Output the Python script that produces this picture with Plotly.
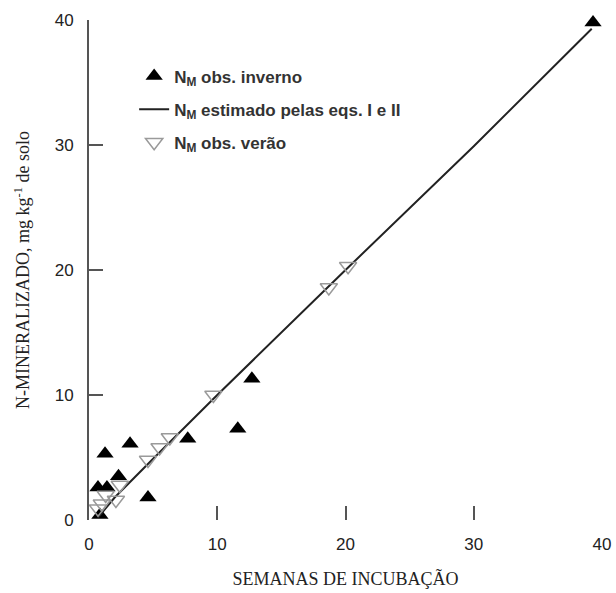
import plotly.graph_objects as go

# Winter observations (filled triangles)
winter_x = [39.3, 12.7, 11.6, 7.7, 3.2, 1.25, 2.3, 4.6, 0.7, 1.4, 0.85]
winter_y = [39.8, 11.3, 7.3, 6.5, 6.1, 5.3, 3.5, 1.8, 2.6, 2.6, 0.4]

# Summer observations (open triangles)
summer_x = [20.2, 18.7, 9.7, 6.3, 5.5, 4.6, 2.4, 2.1, 1.0, 0.7, 1.3]
summer_y = [20.3, 18.6, 10.0, 6.6, 5.8, 4.8, 2.8, 1.6, 1.3, 0.9, 2.0]

# Estimated line (eqs. I e II)
est_x = [0.7, 2.0, 5.0, 10.0, 20.0, 30.0, 39.2]
est_y = [0.2, 1.8, 4.9, 10.0, 20.0, 29.9, 39.3]

x_ticks = [0, 10, 20, 30, 40]
y_ticks = [0, 10, 20, 30, 40]

fig = go.Figure()
fig.add_trace(go.Scatter(
    x=winter_x, y=winter_y, mode="markers",
    name="N<sub>M</sub> obs. inverno", legendgroup="a",
    marker=dict(symbol="triangle-up", size=15, color="black"),
    cliponaxis=False))
fig.add_trace(go.Scatter(
    x=est_x, y=est_y, mode="lines",
    name="N<sub>M</sub> estimado pelas eqs. I e II", legendgroup="b",
    line=dict(color="#222222", width=2),
    cliponaxis=False))
fig.add_trace(go.Scatter(
    x=summer_x, y=summer_y, mode="markers",
    name="N<sub>M</sub> obs. verão", legendgroup="c",
    marker=dict(symbol="triangle-down-open", size=15, color="#9a9a9a",
                line=dict(width=1.5, color="#9a9a9a")),
    cliponaxis=False))

fig.update_layout(
    width=616, height=593,
    margin=dict(l=89, r=14, t=20, b=73, autoexpand=False),
    plot_bgcolor="white", paper_bgcolor="white",
    showlegend=True,
    legend=dict(x=0.088, y=0.923, xanchor="left", yanchor="top",
                font=dict(family="Liberation Sans, Arial", size=17, color="#333333",
                          weight="bold"),
                bgcolor="rgba(0,0,0,0)", tracegroupgap=8, traceorder="grouped"),
    font=dict(family="Liberation Sans, Arial", color="#333333"),
)
fig.update_xaxes(
    range=[0, 40], tickvals=x_ticks, ticktext=[str(v) for v in x_ticks],
    showgrid=False, zeroline=False, showline=False, automargin=False,
    ticks="inside", ticklen=14, tickwidth=2, tickcolor="#555555",
    tickfont=dict(family="Liberation Sans, Arial", size=17, color="#222222"),
    ticklabelstandoff=12,
    title=dict(text="SEMANAS DE INCUBAÇÃO", standoff=19,
               font=dict(family="Liberation Serif, Times New Roman", size=18, color="#222222")),
)
fig.update_yaxes(
    range=[0, 40], tickvals=y_ticks, ticktext=[str(v) for v in y_ticks],
    showgrid=False, zeroline=False, showline=True, linecolor="#555555", linewidth=2,
    automargin=False,
    ticks="inside", ticklen=14, tickwidth=2, tickcolor="#555555",
    tickfont=dict(family="Liberation Sans, Arial", size=17, color="#222222"),
    ticklabelstandoff=10,
    title=dict(text="N-MINERALIZADO, mg kg<sup>-1</sup> de solo", standoff=20,
               font=dict(family="Liberation Serif, Times New Roman", size=18, color="#222222")),
)

fig.write_html("out.html", post_script="document.body.style.margin='0';",
               config={"displayModeBar": False})
